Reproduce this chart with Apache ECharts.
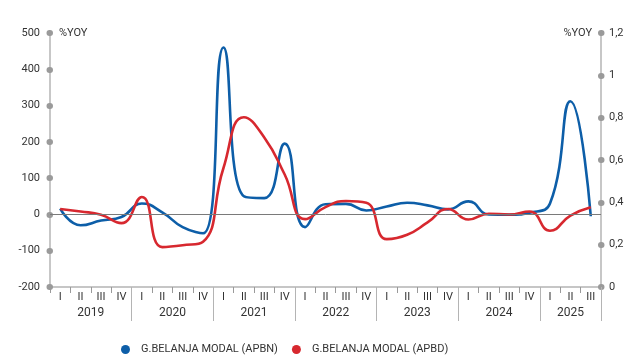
<!DOCTYPE html>
<html>
<head>
<meta charset="utf-8">
<script src="https://cdn.jsdelivr.net/npm/echarts@6/dist/echarts.min.js"></script>
<style>
  html, body { margin: 0; padding: 0; background: #fff; }
  #chart { width: 635px; height: 358px; }
</style>
</head>
<body>
<div id="chart"></div>
<script>
// Quarterly categories, 2019 Q1 .. 2025 Q3
const quarters = [
  'I','II','III','IV', 'I','II','III','IV', 'I','II','III','IV',
  'I','II','III','IV', 'I','II','III','IV', 'I','II','III','IV',
  'I','II','III'
];
const years = ['2019','2020','2021','2022','2023','2024','2025'];
// year label positions / separators on a 0..27 quarter scale
const yearCentres = [2, 6, 10, 14, 18, 22, 25.5];
const yearBreaks = [4, 8, 12, 16, 20, 24, 27];

// %YOY growth of capital spending
const apbn = [16, -30, -17, -7, 30, 6, -35, -52, 460, 50, 45, 195,
  -35, 28, 29, 11, 22, 32, 25, 14, 36, 0, -1, 5, 30, 312, -5];
const apbd = [15, 8, -1, -24, 48, -90, -85, -75, 128, 268, 212, 110,
  -13, 20, 37, 32, -68, -56, -22, 15, -14, 2, 0, 8, -45, -3, 20];

const leftTicks = { min: -200, max: 500, interval: 100 };
const rightTicks = { min: 0, max: 1.2, interval: 0.2 };

const FONT = 'Roboto';
const TXT = '#333';
const AXIS = '#b4b4b4';
const DOT = '#9a9a9a';

const chart = echarts.init(document.getElementById('chart'), null, { renderer: 'canvas' });

const dotTick = {
  show: true, inside: false, length: 0.5,
  lineStyle: { color: DOT, width: 6, cap: 'round' }
};

chart.setOption({
  animation: false,
  textStyle: { fontFamily: FONT },
  grid: { left: 50, right: 34, top: 33, bottom: 71, containLabel: false },
  legend: {
    left: 116, top: 339,
    icon: 'circle', itemWidth: 9, itemHeight: 9, itemGap: 14,
    textStyle: { fontFamily: FONT, fontSize: 11, color: TXT, padding: [0, 0, 0, 6] },
    data: ['G.BELANJA MODAL (APBN)', 'G.BELANJA MODAL (APBD)']
  },
  xAxis: [
    {
      type: 'category', data: quarters, boundaryGap: true,
      axisLine: { show: true, onZero: false, lineStyle: { color: AXIS, width: 1.5 } },
      axisTick: { show: true, interval: 0, length: 6, lineStyle: { color: DOT } },
      axisLabel: { interval: 0, margin: 5, fontSize: 11, color: TXT, fontFamily: FONT },
      splitLine: { show: false }
    },
    {
      type: 'value', min: 0, max: 27, position: 'bottom',
      axisLine: { show: false, onZero: false },
      axisTick: { show: true, inside: false, customValues: yearBreaks, length: 34, lineStyle: { color: AXIS } },
      axisLabel: {
        customValues: yearCentres, margin: 20, fontSize: 12, color: TXT, fontFamily: FONT,
        formatter: v => years[yearCentres.indexOf(v)] || ''
      },
      splitLine: { show: false }
    }
  ],
  yAxis: [
    {
      type: 'value', position: 'left', ...leftTicks,
      name: '%YOY', nameLocation: 'end', nameGap: 0,
      nameTextStyle: { align: 'left', verticalAlign: 'middle', padding: [0, 0, 0, 9], fontSize: 11, color: TXT, fontFamily: FONT },
      axisLine: { show: true, lineStyle: { color: AXIS, width: 1.5 } },
      axisTick: dotTick,
      axisLabel: { margin: 10, fontSize: 11, color: TXT, fontFamily: FONT },
      splitLine: { show: false }
    },
    {
      type: 'value', position: 'right', ...rightTicks,
      name: '%YOY', nameLocation: 'end', nameGap: 0,
      nameTextStyle: { align: 'right', verticalAlign: 'middle', padding: [0, 9, 0, 0], fontSize: 11, color: TXT, fontFamily: FONT },
      axisLine: { show: true, lineStyle: { color: AXIS, width: 1.5 } },
      axisTick: dotTick,
      axisLabel: {
        margin: 8, fontSize: 11, color: TXT, fontFamily: FONT,
        formatter: v => String(+v.toFixed(1)).replace('.', ',')
      },
      splitLine: { show: false }
    }
  ],
  series: [
    {
      name: 'G.BELANJA MODAL (APBN)', type: 'line', data: apbn,
      xAxisIndex: 0, yAxisIndex: 0, smooth: 0.5, showSymbol: false, symbol: 'none',
      color: '#0d5ea8', lineStyle: { width: 2.6, color: '#0d5ea8' },
      markLine: {
        silent: true, symbol: 'none', label: { show: false },
        lineStyle: { color: '#7a7a7a', width: 1, type: 'solid' },
        data: [{ yAxis: 0 }]
      },
      z: 3
    },
    {
      name: 'G.BELANJA MODAL (APBD)', type: 'line', data: apbd,
      xAxisIndex: 0, yAxisIndex: 0, smooth: 0.5, showSymbol: false, symbol: 'none',
      color: '#d7282f', lineStyle: { width: 2.6, color: '#d7282f' },
      z: 4
    }
  ]
});
</script>
</body>
</html>
